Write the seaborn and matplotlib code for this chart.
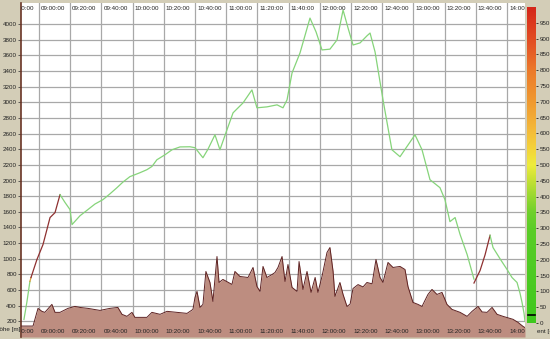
import numpy as np
import pandas as pd
import matplotlib
matplotlib.use("Agg")
import matplotlib.pyplot as plt
import matplotlib.transforms as mtransforms
from matplotlib.colors import LinearSegmentedColormap
import seaborn as sns

# ---- data (time in minutes after midnight, altitude in m) ----
ground_t = [528.5, 536.2, 539.4, 541.9, 543.8, 548.3, 550.3, 553.5, 558.6, 563.1, 566.3, 571.4,
            579.1, 585.5, 590.6, 593.2, 596.4, 599.6, 601.5, 609.2, 612.4, 617.6, 622.1, 628.5,
            634.9, 638.7, 640.0, 641.3, 643.2, 645.1, 647.0, 649.6, 651.5, 654.1, 655.4, 657.9,
            663.7, 665.6, 668.8, 674.0, 677.2, 679.7, 681.7, 683.6, 686.1, 689.4, 691.3, 693.2,
            695.8, 697.7, 699.6, 702.2, 705.4, 706.7, 709.2, 711.8, 714.4, 717.0, 718.8, 721.4,
            724.6, 726.5, 728.5, 729.7, 732.9, 734.9, 737.4, 739.4, 741.3, 744.5, 747.7, 750.2,
            753.5, 756.0, 758.6, 760.5, 763.7, 766.9, 771.4, 774.6, 776.5, 779.7, 782.9, 785.5,
            789.3, 791.9, 795.1, 798.3, 801.5, 804.7, 809.9, 814.4, 817.6, 821.4, 824.0, 827.2,
            830.4, 833.6, 837.4, 843.8, 847.0, 850.2, 851.5]
ground_alt = [140, 140, 366, 328, 315, 417, 315, 315, 366, 391, 378, 366,
              340, 366, 378, 290, 264, 315, 251, 251, 315, 290, 328, 315,
              302, 353, 506, 583, 378, 417, 838, 697, 455, 1029, 697, 736,
              672, 838, 774, 761, 889, 646, 583, 902, 761, 799, 825, 889,
              1029, 710, 927, 634, 583, 965, 608, 838, 570, 761, 570, 774,
              1080, 1144, 838, 519, 697, 544, 391, 420, 620, 670, 640, 697,
              680, 991, 761, 697, 953, 889, 902, 863, 646, 442, 417, 391,
              544, 608, 544, 570, 417, 353, 315, 264, 328, 391, 320, 315,
              378, 290, 264, 226, 187, 136, 120]

# flight track, split into segments coloured by gradient class
seg_a_t = [530.4, 532.3, 534.2]
seg_a_alt = [225, 450, 710]
seg_b_t = [534.2, 534.9]
seg_b_alt = [710, 760]
seg_c_t = [534.9, 538.7, 542.6, 545.1, 547.1, 550.3, 553.5]
seg_c_alt = [760, 990, 1182, 1373, 1527, 1590, 1820]
seg_d_t = [553.5, 556.7, 559.9, 561.2, 566.3, 570.8, 575.9, 581.0, 585.5, 590.0, 593.8, 598.3,
           604.7, 609.2, 612.4, 615.6, 620.8, 625.3, 630.4, 636.8, 640.0, 645.1, 648.3, 652.8,
           656.0, 660.5, 664.4, 670.8, 676.5, 679.7, 686.1, 692.6, 696.4, 699.0, 702.2, 707.3,
           713.7, 717.6, 721.4, 726.5, 731.0, 734.9, 738.1, 741.3, 745.8, 750.2, 752.2, 755.4,
           760.5, 766.2, 771.4, 781.0, 785.5, 790.6, 797.0, 800.2, 803.4, 806.7, 809.9, 814.4,
           818.8]
seg_d_alt = [1820, 1720, 1629, 1437, 1550, 1620, 1700, 1756, 1830, 1909, 1980, 2050,
             2100, 2139, 2180, 2266, 2330, 2394, 2430, 2432, 2420, 2292, 2400, 2585,
             2394, 2649, 2866, 2993, 3159, 2930, 2942, 2968, 2930, 3032, 3376, 3631,
             4077, 3900, 3670, 3680, 3797, 4180, 3950, 3733, 3760, 3850, 3886, 3645,
             3032, 2394, 2305, 2585, 2394, 2011, 1909, 1756, 1475, 1527, 1310, 1055,
             740]
seg_e_t = [818.8, 822.7, 825.9, 829.1]
seg_e_alt = [690, 850, 1050, 1300]
seg_f_t = [829.1, 831.0, 835.5, 840.0, 843.2, 846.4, 848.3, 849.6, 850.9, 851.5]
seg_f_alt = [1300, 1144, 1000, 863, 760, 697, 560, 442, 300, 200]

time_ticks = list(range(520, 861, 20))
alt_ticks = list(range(200, 4001, 200))
grad_ticks = list(range(0, 951, 50))

# ---- build frames ----
segs = {"a": (seg_a_t, seg_a_alt), "b": (seg_b_t, seg_b_alt), "c": (seg_c_t, seg_c_alt),
        "d": (seg_d_t, seg_d_alt), "e": (seg_e_t, seg_e_alt), "f": (seg_f_t, seg_f_alt)}
rows = []
for k, (tt, aa) in segs.items():
    for t, a in zip(tt, aa):
        rows.append({"t": t, "alt": a, "seg": k})
track = pd.DataFrame(rows)
ground = pd.DataFrame({"t": ground_t, "alt": ground_alt})

GREEN = "#86d47a"
RED = "#8e3030"
palette = {"a": GREEN, "b": "#d8a040", "c": RED, "d": GREEN, "e": RED, "f": GREEN}

BG = "#d3cdb7"
fig = plt.figure(figsize=(5.5, 3.39), dpi=100, facecolor=BG)
W, H = 550.0, 339.0
ax = fig.add_axes([21 / W, 2 / H, (525 - 21) / W, (336 - 2) / H])
ax.set_facecolor("white")

ax.set_xlim(528.5, 851.5)
ax.set_ylim(0, 4270)

# grid
for t in time_ticks:
    ax.axvline(t, color="#a8a8a8", lw=0.9, zorder=1)
for a in alt_ticks:
    ax.axhline(a, color="#a8a8a8", lw=0.9, zorder=1)

# ground
ax.fill_between(ground["t"], 0, ground["alt"], color="#bd8d80", zorder=2, lw=0)
sns.lineplot(data=ground, x="t", y="alt", ax=ax, color="#5e2222", lw=0.7,
             sort=False, estimator=None, zorder=3)

# track
sns.lineplot(data=track, x="t", y="alt", hue="seg", palette=palette, ax=ax, lw=0.9,
             sort=False, estimator=None, legend=False, zorder=4)

ax.set_xlabel("")
ax.set_ylabel("")
ax.set_xticks([])
ax.set_yticks(alt_ticks)
ax.set_yticklabels([str(a) for a in alt_ticks], fontsize=4.5, family="Liberation Sans",
                   color="#222222")
ax.tick_params(axis="y", length=2, width=0.6, pad=1, color="#444444")
for s in ["top", "right", "bottom"]:
    ax.spines[s].set_visible(False)
ax.spines["left"].set_color("#6a3526")
ax.spines["left"].set_linewidth(1.2)

# time labels, clipped to the axes
def hhmm(m):
    return "%02d:%02d:00" % (m // 60, m % 60)

off = mtransforms.offset_copy(ax.get_xaxis_transform(), fig=fig, x=1.5, y=0, units="points")
for t in time_ticks:
    for yy, va in [(0.992, "top"), (0.008, "bottom")]:
        ax.text(t, yy, hhmm(t), transform=off, ha="left", va=va, fontsize=4.5,
                family="Liberation Sans", color="#222222", clip_on=True, zorder=6)

fig.text(20 / W, 1 - 330 / H, "Höhe [m]", ha="right", va="center", fontsize=4.5,
         family="Liberation Sans", color="#222222")
fig.text(537 / W, 1 - 331.5 / H, "ent [-]", ha="left", va="center", fontsize=4.5,
         family="Liberation Sans", color="#222222")

# gradient colour bar
cmap = LinearSegmentedColormap.from_list("grad", [
    (0.0, "#3ec81e"), (0.30, "#5ccd28"), (0.35, "#70d02c"), (0.40, "#98d830"),
    (0.45, "#c4e034"), (0.50, "#eeec3c"), (0.55, "#f4d43a"), (0.62, "#f4b638"),
    (0.70, "#f09a30"), (0.80, "#ec7a2a"), (0.88, "#e45424"), (0.95, "#dc3a1e"),
    (1.0, "#d4261a")])
cax = fig.add_axes([527 / W, (H - 323) / H, 9 / W, (323 - 7) / H])
grad = np.linspace(0, 1000, 256).reshape(-1, 1)
cax.imshow(grad, aspect="auto", cmap=cmap, origin="lower", extent=[0, 1, 0, 1000])
cax.axhline(25, xmin=0.15, xmax=0.85, color="black", lw=1.2)
cax.set_xticks([])
cax.set_ylim(0, 1000)
cax.yaxis.tick_right()
cax.set_yticks(grad_ticks)
cax.set_yticklabels([str(g) for g in grad_ticks], fontsize=4.5, family="Liberation Sans",
                    color="#222222")
cax.tick_params(axis="y", length=1.5, width=0.5, pad=1)
for s in cax.spines.values():
    s.set_visible(False)

fig.savefig("out.png", dpi=100, facecolor=BG)
